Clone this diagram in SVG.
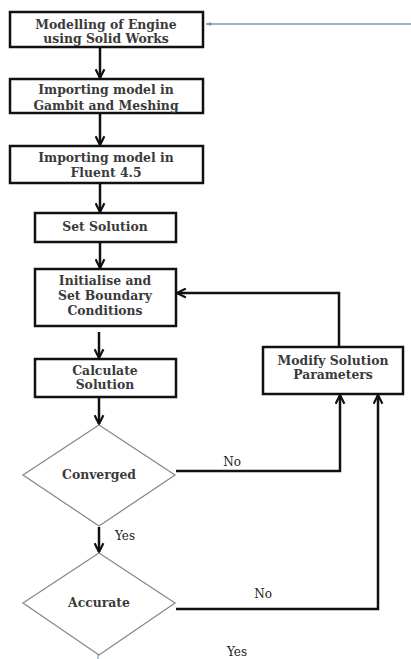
<svg xmlns="http://www.w3.org/2000/svg" width="411" height="659" viewBox="0 0 411 659">
<style>
.box{fill:#fff;stroke:#111;stroke-width:2.5}
.dia{fill:#fff;stroke:#8a8a8a;stroke-width:1.3}
.t{font-family:"DejaVu Serif","Liberation Serif",serif;font-weight:bold;font-size:12.4px;fill:#3a3a3a;text-anchor:middle}
.lbl{font-family:"DejaVu Serif","Liberation Serif",serif;font-size:12px;fill:#222;text-anchor:middle}
.c{fill:none;stroke:#111;stroke-width:2.5}
</style>
<defs>
<marker id="ah" viewBox="0 0 10 10" refX="9" refY="5" markerWidth="4.4" markerHeight="4.4" orient="auto" markerUnits="strokeWidth">
<path d="M1,1 L9,5 L1,9" fill="none" stroke="#111" stroke-width="2"/>
</marker>
<marker id="bh" viewBox="0 0 10 10" refX="9" refY="5" markerWidth="5" markerHeight="5" orient="auto" markerUnits="strokeWidth">
<path d="M1,2 L9,5 L1,8 z" fill="#7a95b5"/>
</marker>
</defs>
<g id="connectors">
<line x1="411" y1="24" x2="206" y2="24" stroke="#7a95b5" stroke-width="1.3" marker-end="url(#bh)"/>
<line class="c" x1="100" y1="48" x2="100" y2="78" marker-end="url(#ah)"/>
<line class="c" x1="100" y1="114" x2="100" y2="145" marker-end="url(#ah)"/>
<line class="c" x1="100" y1="184" x2="100" y2="212" marker-end="url(#ah)"/>
<line class="c" x1="100" y1="243" x2="100" y2="268" marker-end="url(#ah)"/>
<line class="c" x1="99" y1="332" x2="99" y2="358" marker-end="url(#ah)"/>
<line class="c" x1="99" y1="398" x2="99" y2="424" marker-end="url(#ah)"/>
<line class="c" x1="99" y1="527" x2="99" y2="552" marker-end="url(#ah)"/>
<polyline class="c" points="339,347 339,293 177,293" marker-end="url(#ah)"/>
<polyline class="c" points="176,471 340,471 340,395" marker-end="url(#ah)"/>
<polyline class="c" points="176,609 378,609 378,395" marker-end="url(#ah)"/>
<line x1="98" y1="654" x2="98" y2="659" stroke="#9ab3cc" stroke-width="1.5"/>
<text class="lbl" x="232" y="466">No</text>
<text class="lbl" x="125" y="540">Yes</text>
<text class="lbl" x="263" y="598">No</text>
<text class="lbl" x="237" y="656">Yes</text>
</g>
<g id="n1"><rect class="box" x="10" y="12" width="193" height="35"/>
<text class="t" x="106" y="29">Modelling of Engine</text><text class="t" x="106" y="43">using Solid Works</text></g>
<g id="n2"><rect class="box" x="10" y="79" width="193" height="34"/>
<text class="t" x="106" y="94">Importing model in</text><text class="t" x="106" y="110">Gambit and Meshing</text></g>
<g id="n3"><rect class="box" x="10" y="146" width="193" height="37"/>
<text class="t" x="106" y="162">Importing model in</text><text class="t" x="106" y="177">Fluent 4.5</text></g>
<g id="n4"><rect class="box" x="35" y="213" width="141" height="29"/>
<text class="t" x="105" y="231">Set Solution</text></g>
<g id="n5"><rect class="box" x="35" y="269" width="141" height="57"/>
<text class="t" x="105" y="285">Initialise and</text><text class="t" x="105" y="300">Set Boundary</text><text class="t" x="105" y="315">Conditions</text></g>
<g id="n6"><rect class="box" x="35" y="359" width="141" height="38"/>
<text class="t" x="105" y="375">Calculate</text><text class="t" x="105" y="389">Solution</text></g>
<g id="n7"><rect class="box" x="263" y="347" width="140" height="47"/>
<text class="t" x="333" y="365">Modify Solution</text><text class="t" x="333" y="379">Parameters</text></g>
<g id="n8"><polygon class="dia" points="99,425 175,475 99,526 23,475"/>
<text class="t" x="99" y="479">Converged</text></g>
<g id="n9"><polygon class="dia" points="99,553 175,603 99,655 23,603"/>
<text class="t" x="99" y="607">Accurate</text></g>
</svg>
